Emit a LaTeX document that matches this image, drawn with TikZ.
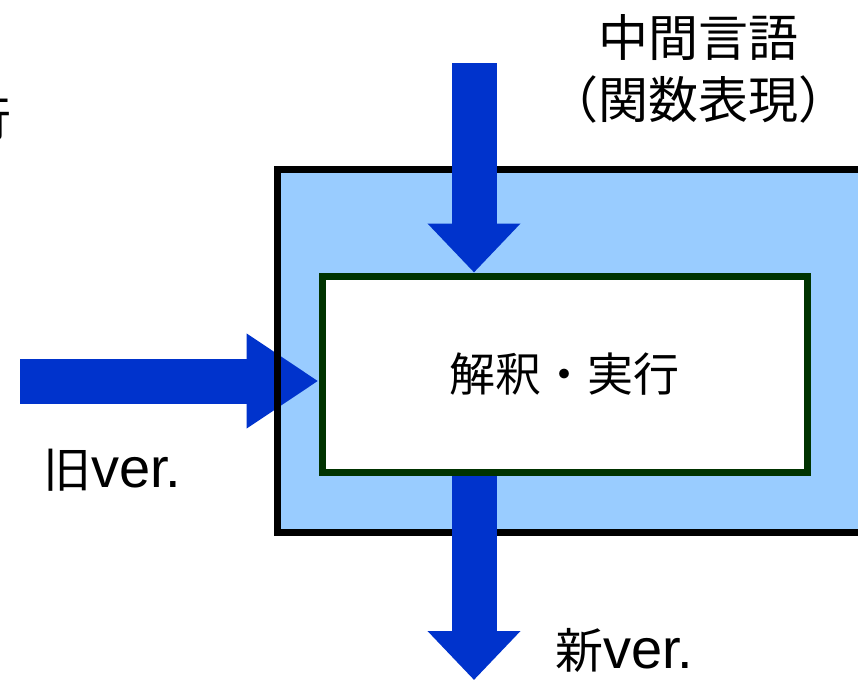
\documentclass[tikz,border=0pt]{standalone}
\usepackage{fontspec}
\setmainfont{Liberation Sans}
\newfontfamily\jpfont{Noto Sans CJK JP}
\newcommand\verfont{\rmfamily\fontsize{56}{60}\selectfont}
\usetikzlibrary{arrows.meta, positioning}

\definecolor{framefill}{HTML}{99CCFF}
\definecolor{arrowblue}{HTML}{0033CC}
\definecolor{boxgreen}{HTML}{003300}

\pgfdeclarelayer{back}
\pgfdeclarelayer{mid}
\pgfdeclarelayer{front}
\pgfsetlayers{back,mid,front,main}

\begin{document}
\begin{tikzpicture}[
    x=1pt, y=-1pt,
    font=\fontsize{46}{58}\selectfont,
    % Styles
    outer_box/.style={
        draw=black,
        line width=7pt,
        minimum width=623pt,
        minimum height=363pt,
        inner sep=0pt
    },
    inner_box/.style={
        draw=boxgreen,
        fill=white,
        line width=7pt,
        minimum width=485pt,
        minimum height=196pt,
        inner sep=0pt,
        font=\jpfont\fontsize{46}{58}\selectfont
    },
    block_arrow/.style={draw=arrowblue, line width=45pt, -{Triangle[length=#1, width=90pt]}},
    block_arrow/.default=49pt,
    jp_text/.style={inner sep=0pt, align=center, font=\jpfont\fontsize{48}{60}\selectfont}
]
    \useasboundingbox (0,0) rectangle (858,680);

    % --- Boxes ---
    \node[inner_box] (engine) at (564.5,374) {解釈・実行};
    \begin{pgfonlayer}{front}
        \node[outer_box] (frame) at (588.5,350.5) {};
    \end{pgfonlayer}
    \begin{pgfonlayer}{back}
        \fill[framefill] (frame.north west) rectangle (frame.south east);
    \end{pgfonlayer}

    % --- Arrows ---
    \coordinate (src) at (474,63);
    \coordinate (old) at (20,381);
    \coordinate (out) at (474,680);
    \begin{pgfonlayer}{front}
        \draw[block_arrow] (src) -- (src |- engine.north);
        \draw[block_arrow] (src |- engine.south) -- (out);
    \end{pgfonlayer}
    \begin{pgfonlayer}{mid}
        \draw[block_arrow=72pt] (old) -- (old -| engine.west);
    \end{pgfonlayer}

    % --- Labels ---
    \node[jp_text, font=\jpfont\fontsize{50}{62}\selectfont] (ir) at (698,69) {中間言語\\（関数表現）};
    \node[jp_text, anchor=west] (oldver) at (43,470) {旧{\verfont ver.}};
    \node[jp_text, anchor=west] (newver) at (555,650) {新{\verfont ver.}};
    \node[jp_text, anchor=east] (cut) at (12,118) {行};

\end{tikzpicture}
\end{document}
